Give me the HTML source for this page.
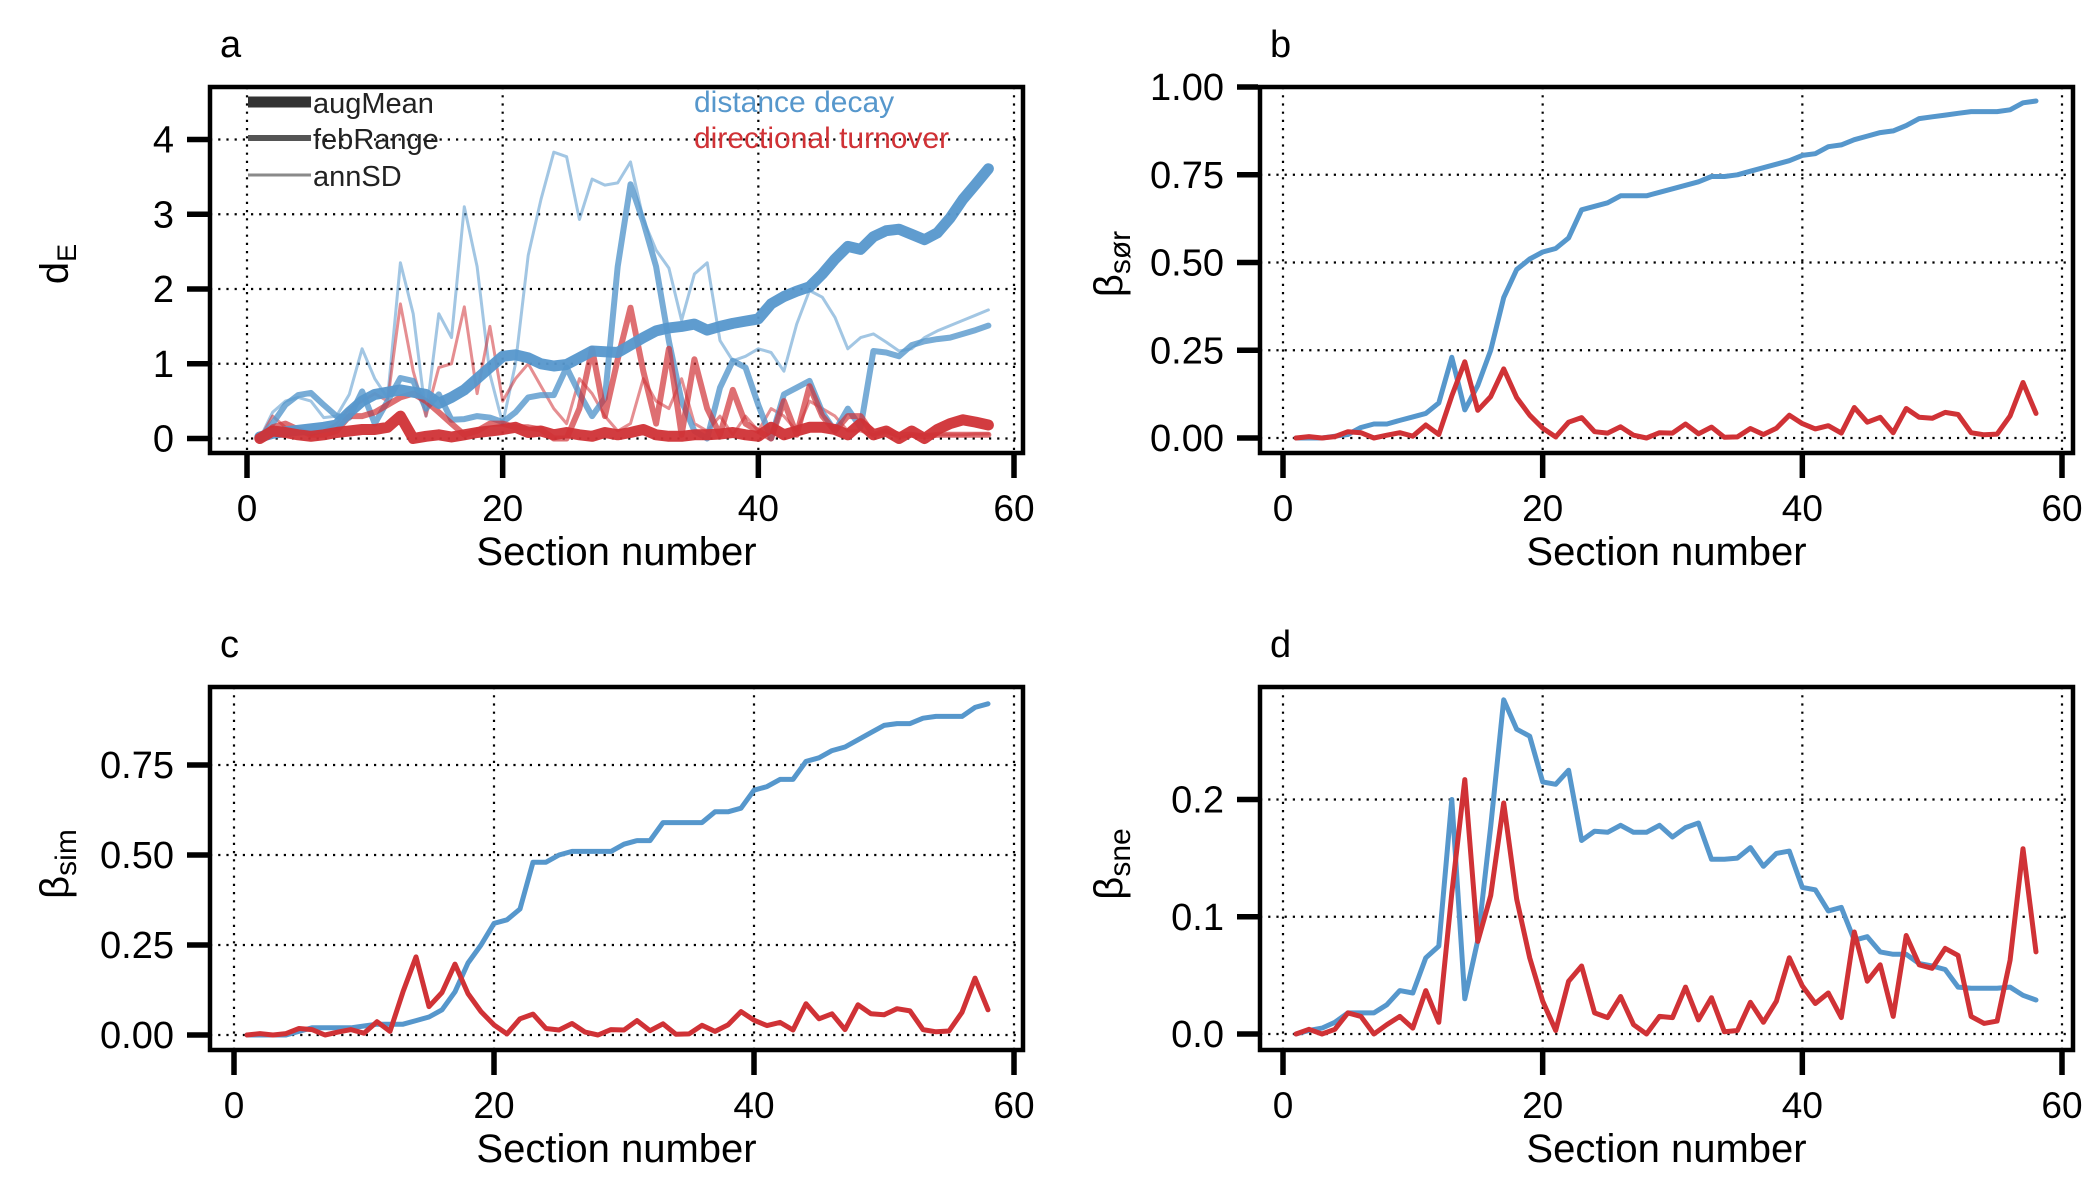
<!DOCTYPE html>
<html><head><meta charset="utf-8">
<style>
html,body{margin:0;padding:0;background:#fff;}
svg{display:block;font-family:"Liberation Sans",Arial,sans-serif;}
</style></head>
<body>
<svg id="chart" width="2100" height="1200" viewBox="0 0 2100 1200" xmlns="http://www.w3.org/2000/svg"></svg>
<script>
// ---- data ----
const sections = Array.from({length:58},(_,i)=>i+1);
const xTicks = [0,20,40,60];
const aTicks = [0,1,2,3,4];
const bTicks = [0,0.25,0.5,0.75,1.0];
const bTickLabels = ["0.00","0.25","0.50","0.75","1.00"];
const cTicks = [0,0.25,0.5,0.75];
const cTickLabels = ["0.00","0.25","0.50","0.75"];
const dTicks = [0,0.1,0.2];
const dTickLabels = ["0.0","0.1","0.2"];

const aBlueAugMean = [0.02,0.07,0.09,0.11,0.13,0.15,0.18,0.35,0.5,0.59,0.62,0.65,0.62,0.59,0.47,0.55,0.65,0.8,0.95,1.1,1.12,1.08,1.0,0.97,0.99,1.08,1.17,1.16,1.15,1.25,1.35,1.44,1.48,1.5,1.53,1.45,1.5,1.54,1.57,1.6,1.8,1.9,1.97,2.03,2.2,2.4,2.57,2.53,2.7,2.78,2.8,2.73,2.66,2.75,2.95,3.2,3.4,3.61];
const aBlueFebRange = [0,0.2,0.45,0.58,0.61,0.45,0.3,0.28,0.63,0.2,0.5,0.81,0.77,0.4,0.59,0.25,0.26,0.3,0.28,0.22,0.35,0.55,0.58,0.58,0.95,0.6,0.3,0.54,2.3,3.4,2.9,2.3,1.3,0.5,0.1,0.0,0.68,1.04,0.95,0.45,0.0,0.59,0.68,0.77,0.35,0.1,0.4,0.15,1.17,1.15,1.1,1.25,1.3,1.33,1.35,1.4,1.45,1.51];
const aBlueAnnSD = [0,0.35,0.5,0.55,0.5,0.28,0.3,0.59,1.2,0.8,0.54,2.35,1.67,0.3,1.67,1.35,3.1,2.3,0.86,0.2,1.0,2.45,3.2,3.83,3.77,2.93,3.47,3.39,3.42,3.7,2.93,2.52,2.28,1.58,2.2,2.35,1.31,1.04,1.1,1.2,1.15,0.9,1.53,1.98,1.89,1.62,1.2,1.35,1.4,1.29,1.17,1.2,1.35,1.44,1.51,1.58,1.65,1.72];
const aRedAugMean = [0,0.1,0.08,0.05,0.03,0.05,0.08,0.1,0.12,0.12,0.15,0.3,0.0,0.03,0.05,0.02,0.05,0.08,0.1,0.12,0.15,0.08,0.1,0.05,0.08,0.05,0.03,0.08,0.05,0.08,0.12,0.05,0.03,0.03,0.05,0.05,0.06,0.08,0.05,0.03,0.15,0.05,0.1,0.15,0.15,0.12,0.05,0.2,0.05,0.1,0.0,0.1,0.0,0.12,0.2,0.25,0.22,0.18];
const aRedFebRange = [0,0.15,0.2,0.12,0.05,0.05,0.1,0.3,0.3,0.35,0.45,0.55,0.6,0.5,0.35,0.2,0.05,0.1,0.2,0.2,0.15,0.15,0.12,0.0,0.0,0.4,1.2,0.3,1.06,1.75,0.9,0.2,1.2,0.05,1.06,0.4,0.05,0.65,0.2,0.1,0.0,0.5,0.05,0.7,0.3,0.1,0.3,0.3,0.05,0.1,0.05,0.05,0.03,0.05,0.05,0.05,0.05,0.05];
const aRedAnnSD = [0,0.3,0.15,0.1,0.05,0.1,0.2,0.4,0.5,0.6,0.5,1.8,0.9,0.3,0.95,1.0,1.76,0.6,1.5,0.5,0.8,1.0,0.7,0.4,0.2,0.8,0.6,0.3,0.1,0.2,0.8,0.5,0.4,0.8,0.2,0.1,0.3,0.05,0.3,0.1,0.4,0.3,0.1,0.5,0.4,0.3,0.1,0.1,0.05,0.1,0.0,0.05,0.05,0.05,0.05,0.05,0.06,0.06];

const bBlue = [0,0,0,0.005,0.01,0.03,0.04,0.04,0.05,0.06,0.07,0.1,0.23,0.08,0.15,0.25,0.4,0.48,0.51,0.53,0.54,0.57,0.65,0.66,0.67,0.69,0.69,0.69,0.7,0.71,0.72,0.73,0.745,0.745,0.75,0.76,0.77,0.78,0.79,0.805,0.81,0.83,0.835,0.85,0.86,0.87,0.875,0.89,0.91,0.915,0.92,0.925,0.93,0.93,0.93,0.935,0.955,0.96];
const cBlue = [0,0,0,0,0.01,0.02,0.02,0.02,0.02,0.025,0.03,0.03,0.03,0.04,0.05,0.07,0.12,0.2,0.25,0.31,0.32,0.35,0.48,0.48,0.5,0.51,0.51,0.51,0.51,0.53,0.54,0.54,0.59,0.59,0.59,0.59,0.62,0.62,0.63,0.68,0.69,0.71,0.71,0.76,0.77,0.79,0.8,0.82,0.84,0.86,0.865,0.865,0.88,0.885,0.885,0.885,0.91,0.92];
const dBlue = [0,0.003,0.005,0.01,0.018,0.018,0.018,0.025,0.037,0.035,0.065,0.075,0.2,0.03,0.08,0.177,0.285,0.26,0.254,0.215,0.213,0.225,0.165,0.173,0.172,0.178,0.172,0.172,0.178,0.168,0.176,0.18,0.149,0.149,0.15,0.159,0.143,0.154,0.156,0.125,0.123,0.105,0.108,0.08,0.083,0.07,0.068,0.068,0.06,0.058,0.055,0.04,0.039,0.039,0.039,0.04,0.033,0.029];
const turnoverRed = [0,0.004,0,0.004,0.018,0.015,0,0.008,0.015,0.005,0.037,0.01,0.12,0.217,0.079,0.118,0.197,0.115,0.065,0.028,0.003,0.045,0.058,0.018,0.014,0.032,0.008,0,0.015,0.014,0.04,0.012,0.031,0.002,0.003,0.027,0.01,0.028,0.065,0.041,0.026,0.035,0.014,0.087,0.045,0.059,0.015,0.084,0.059,0.056,0.073,0.067,0.015,0.009,0.011,0.063,0.158,0.07];

const BLUE="#5697cc", RED="#d03236";
const NS="http://www.w3.org/2000/svg";
const svg=document.getElementById('chart');
function mk(tag,attrs,parent){const e=document.createElementNS(NS,tag);for(const k in attrs)e.setAttribute(k,attrs[k]);(parent||svg).appendChild(e);return e;}
function linScale(d0,d1,r0,r1){return v=>r0+(v-d0)*(r1-r0)/(d1-d0);}

function panel(p){
  const g=mk('g',{});
  
  
  const X=linScale(0,60,p.x0,p.x60), Y=linScale(p.yv0,p.yv1,p.y0,p.y1);
  // grid
  xTicks.forEach(t=>{const l=mk('line',{x1:X(t),x2:X(t),y1:p.top,y2:p.bot,stroke:'#000','stroke-width':2.2,'stroke-dasharray':'2.2 6'},g);
    });
  p.yt.forEach(t=>{const l=mk('line',{x1:p.left,x2:p.right,y1:Y(t),y2:Y(t),stroke:'#000','stroke-width':2.2,'stroke-dasharray':'2.2 6'},g);
    });
  // series
  p.series.forEach(s=>{
    const pts=s.vals.map((v,i)=>X(sections[i]).toFixed(1)+','+Y(v).toFixed(1)).join(' ');
    const pl=mk('polyline',{points:pts,fill:'none',stroke:s.color,'stroke-width':s.w,'stroke-opacity':s.op,'stroke-linejoin':'round','stroke-linecap':'round'},g);
    
    
  });
  // box
  const r=mk('rect',{x:p.left,y:p.top,width:p.right-p.left,height:p.bot-p.top,fill:'none',stroke:'#000','stroke-width':4.5},g);
  
  // ticks
  xTicks.forEach(t=>{
    const l=mk('line',{x1:X(t),x2:X(t),y1:p.bot+2,y2:p.bot+25,stroke:'#000','stroke-width':5.5},g);
    
    const tx=mk('text',{x:X(t),y:p.bot+68,'text-anchor':'middle','font-size':37,fill:'#000'},g);
    tx.textContent=t;
  });
  p.yt.forEach((t,i)=>{
    const l=mk('line',{x1:p.left-23,x2:p.left-2,y1:Y(t),y2:Y(t),stroke:'#000','stroke-width':5.5},g);
    
    const tx=mk('text',{x:p.left-36,y:Y(t)+13,'text-anchor':'end','font-size':38,fill:'#000'},g);
    tx.textContent=p.ytl[i];
  });
  const xt=mk('text',{x:(p.left+p.right)/2,y:p.bot+112,'text-anchor':'middle','font-size':40,fill:'#000'},g);
  xt.textContent='Section number';
  const lb=mk('text',{x:p.left+10,y:p.top-30,'font-size':38,fill:'#000'},g);
  lb.textContent=p.id;
  const yt=mk('text',{transform:`translate(${p.ytx},${p.yty}) rotate(-90)`,'text-anchor':'middle','font-size':40,fill:'#000'},g);
  
  yt.innerHTML=p.ytitle;
  return g;
}

panel({id:'a',left:210,right:1023,top:87,bot:453,x0:247,x60:1014,yv0:0,yv1:4,y0:438.5,y1:139.5,yt:aTicks,ytl:aTicks.map(String),
  ytx:68,yty:264,ytitle:'d<tspan font-size="27" dy="8">E</tspan>',
  series:[
    {name:'annsd-distance-decay',vals:aBlueAnnSD,color:BLUE,w:3,op:0.55},
    {name:'annsd-directional-turnover',vals:aRedAnnSD,color:RED,w:3,op:0.55},
    {name:'febrange-distance-decay',vals:aBlueFebRange,color:BLUE,w:6,op:0.8},
    {name:'febrange-directional-turnover',vals:aRedFebRange,color:RED,w:6,op:0.7},
    {name:'augmean-distance-decay',vals:aBlueAugMean,color:BLUE,w:11,op:0.95},
    {name:'augmean-directional-turnover',vals:aRedAugMean,color:RED,w:11,op:0.95}
  ]});
panel({id:'b',left:1260,right:2073,top:87,bot:453,x0:1283,x60:2062,yv0:0,yv1:1,y0:438,y1:87,yt:bTicks,ytl:bTickLabels,
  ytx:1122,yty:264,ytitle:'β<tspan font-size="30" dy="8">sør</tspan>',
  series:[{name:'sor-distance-decay',vals:bBlue,color:BLUE,w:5,op:1},{name:'sor-directional-turnover',vals:turnoverRed,color:RED,w:5,op:1}]});
panel({id:'c',left:210,right:1023,top:687,bot:1050,x0:234,x60:1014,yv0:0,yv1:0.75,y0:1035,y1:765,yt:cTicks,ytl:cTickLabels,
  ytx:68,yty:864,ytitle:'β<tspan font-size="30" dy="8">sim</tspan>',
  series:[{name:'sim-distance-decay',vals:cBlue,color:BLUE,w:5,op:1},{name:'sim-directional-turnover',vals:turnoverRed,color:RED,w:5,op:1}]});
panel({id:'d',left:1260,right:2073,top:687,bot:1050,x0:1283,x60:2062,yv0:0,yv1:0.2,y0:1034,y1:799.5,yt:dTicks,ytl:dTickLabels,
  ytx:1122,yty:864,ytitle:'β<tspan font-size="30" dy="8">sne</tspan>',
  series:[{name:'sne-distance-decay',vals:dBlue,color:BLUE,w:5,op:1},{name:'sne-directional-turnover',vals:turnoverRed,color:RED,w:5,op:1}]});

// legend in panel a
const legend=mk('g',{});


const legItems=[{t:'augMean',w:11,c:'#333',y:102},{t:'febRange',w:6,c:'#555',y:138},{t:'annSD',w:3,c:'#8a8a8a',y:175}];
legItems.forEach(it=>{
  const l=mk('line',{x1:248,x2:311,y1:it.y,y2:it.y,stroke:it.c,'stroke-width':it.w},legend);
  
  const t=mk('text',{x:313,y:it.y+11,'font-size':29,fill:'#222'},legend);
  t.textContent=it.t;
});
const t1=mk('text',{x:694,y:112,'font-size':30,fill:BLUE},legend);
t1.textContent='distance decay';


const t2=mk('text',{x:694,y:148,'font-size':30,fill:RED},legend);
t2.textContent='directional turnover';


</script>
</body></html>
